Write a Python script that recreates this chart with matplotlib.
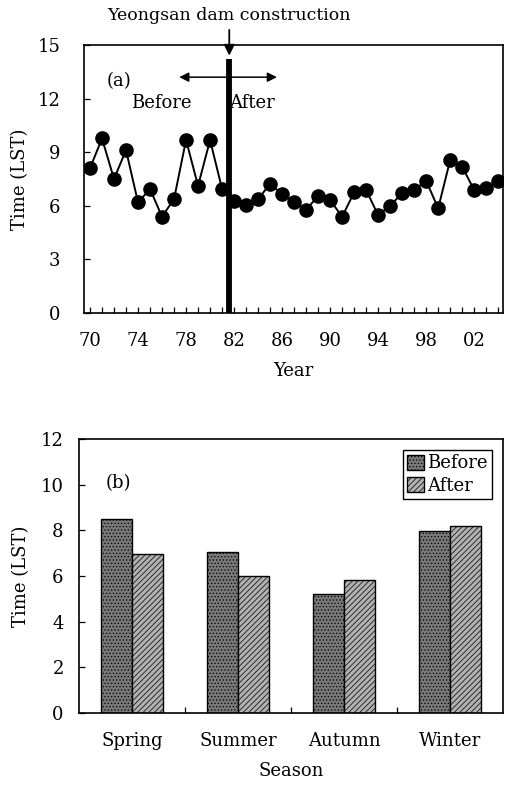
import matplotlib
matplotlib.use("Agg")
import matplotlib.pyplot as plt
import numpy as np

plt.rcParams['font.family'] = ['DejaVu Serif', 'Liberation Serif']
plt.rcParams['hatch.linewidth'] = 0.5

# (a) Annual time series of onset time
years = list(range(1970, 2005))
onset_time = [8.1, 9.77, 7.5, 9.12, 6.19, 6.94, 5.39, 6.38, 9.68, 7.12,
              9.68, 6.94, 6.28, 6.04, 6.38, 7.22, 6.66, 6.23, 5.76, 6.57,
              6.32, 5.39, 6.75, 6.88, 5.48, 6.01, 6.70, 6.88, 7.40, 5.86,
              8.56, 8.19, 6.88, 6.98, 7.40]
dam_year = 1981.6
year_ticks = [1970, 1974, 1978, 1982, 1986, 1990, 1994, 1998, 2002]
year_labels = ['70', '74', '78', '82', '86', '90', '94', '98', '02']

# (b) Seasonal mean before / after dam construction
seasons = ['Spring', 'Summer', 'Autumn', 'Winter']
before = [8.48, 7.07, 5.21, 7.99]
after = [6.95, 6.01, 5.81, 8.19]

FS = 13

fig = plt.figure(figsize=(5.05, 7.91), dpi=100)
W, H = 505, 791

def add_ax(l, r, t, b):
    return fig.add_axes([l / W, 1 - b / H, (r - l) / W, (b - t) / H])

# ---- panel (a) ----
ax1 = add_ax(84, 503, 45, 313)
ax1.plot(years, onset_time, color='black', lw=1.4, marker='o', ms=9.5,
         mfc='black', mec='black', zorder=3)
ax1.set_xlim(1969.5, 2004.4)
ax1.set_ylim(0, 15)
ax1.set_yticks(np.arange(0, 16, 3))
ax1.set_xticks(year_ticks)
ax1.set_xticklabels(year_labels)
ax1.set_xticks(years, minor=True)
ax1.tick_params(axis='both', which='both', direction='in', labelsize=FS,
                width=0.9)
ax1.tick_params(axis='x', which='both', length=4, pad=14)
ax1.tick_params(axis='y', length=4, pad=17)
ax1.set_xlabel('Year', fontsize=FS, labelpad=8)
ax1.set_ylabel('Time (LST)', fontsize=FS, labelpad=6)
for s in ax1.spines.values():
    s.set_linewidth(1.2)

ax1.plot([dam_year, dam_year], [0, 14.2], color='black', lw=4.2,
         solid_capstyle='butt', zorder=4)
ax1.annotate('', xy=(dam_year, 14.25), xytext=(dam_year, 16.0),
             annotation_clip=False,
             arrowprops=dict(arrowstyle='-|>', color='black', lw=1.3,
                             mutation_scale=16))
ax1.text(dam_year, 16.15, 'Yeongsan dam construction', ha='center',
         va='bottom', fontsize=12.5)
ax1.annotate('', xy=(1977.2, 13.2), xytext=(1985.8, 13.2),
             arrowprops=dict(arrowstyle='<|-|>', color='black', lw=1.1,
                             mutation_scale=14))
ax1.text(1975.9, 11.75, 'Before', ha='center', va='center', fontsize=FS)
ax1.text(1983.5, 11.75, 'After', ha='center', va='center', fontsize=FS)
ax1.text(1972.4, 13.0, '(a)', ha='center', va='center', fontsize=FS)

# ---- panel (b) ----
ax2 = add_ax(79, 503, 439, 713)
x = np.arange(len(seasons))
bw = 0.29
ax2.bar(x - bw / 2, before, bw, color='#787878', edgecolor='black', lw=1.0,
        hatch='.....', label='Before')
ax2.bar(x + bw / 2, after, bw, color='#b0b0b0', edgecolor='black', lw=1.0,
        hatch='//////', label='After')
ax2.set_xlim(-0.5, 3.5)
ax2.set_ylim(0, 12)
ax2.set_yticks(np.arange(0, 13, 2))
ax2.set_xticks(x)
ax2.set_xticklabels(seasons)
ax2.set_xticks([0.5, 1.5, 2.5], minor=True)
ax2.tick_params(axis='x', which='major', length=0, pad=14, labelsize=FS)
ax2.tick_params(axis='x', which='minor', direction='in', length=4, width=0.9)
ax2.tick_params(axis='y', direction='in', length=4, width=0.9, pad=11,
                labelsize=FS)
ax2.set_xlabel('Season', fontsize=FS, labelpad=8)
ax2.set_ylabel('Time (LST)', fontsize=FS, labelpad=8)
for s in ax2.spines.values():
    s.set_linewidth(1.2)
ax2.text(0.092, 0.84, '(b)', transform=ax2.transAxes, ha='center',
         va='center', fontsize=FS)
leg = ax2.legend(loc='upper right', fontsize=FS, frameon=True, fancybox=False,
                 edgecolor='black', framealpha=1, borderaxespad=0.6,
                 handlelength=0.9, handleheight=0.9, handletextpad=0.2,
                 borderpad=0.25, labelspacing=0.25)
leg.get_frame().set_linewidth(1.0)

fig.savefig('out.png', dpi=100)
